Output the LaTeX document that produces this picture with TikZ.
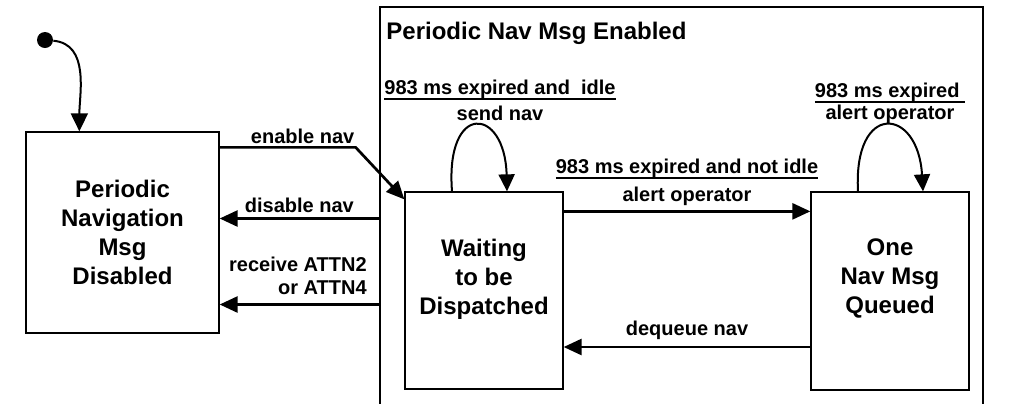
\documentclass[tikz,border=0pt]{standalone}
\usepackage{fontspec}
\setmainfont{Liberation Sans}
\usetikzlibrary{arrows.meta}

% underline drawn as a thick rule under the text
\newcommand{\ultext}[1]{\setbox0\hbox{#1}\rlap{\rule[-2.6pt]{\wd0}{1.2pt}}\box0}

\begin{document}
\begin{tikzpicture}[x=0.5pt,y=-0.5pt,
  state/.style={draw,line width=0.65pt,minimum width=79pt,minimum height=99pt,
    align=center,font=\fontsize{12}{14.5}\selectfont\bfseries},
  edgelbl/.style={font=\fontsize{10}{11.5}\selectfont\bfseries,inner sep=1pt},
  transition/.style={line width=1.35pt,-{Triangle[length=9pt,width=8pt]}},
  selfloop/.style={line width=1pt,-{Triangle[length=8.5pt,width=8pt]}}]
  \clip (0,0) rectangle (1016,403);

  % Enclosing super state (runs off the bottom)
  \node[draw,line width=1pt,minimum width=301.5pt,minimum height=211.5pt,
    inner sep=0] (en) at (681.5,218.5) {};
  \node[anchor=base west,inner sep=0,font=\fontsize{12}{14}\selectfont\bfseries]
    (title) at ([xshift=3.5pt,yshift=-16.5pt]en.north west) {Periodic Nav Msg Enabled};

  % States
  \node[state,minimum width=96.5pt,minimum height=100.5pt] (dis) at (122.5,232.5)
    {Periodic\\Navigation\\Msg\\Disabled};
  \node[state,minimum height=98.5pt,text depth=14pt] (wait) at (484,290.5)
    {Waiting\\to be\\Dispatched};
  \node[state,text depth=15pt] (que) at (890,291)
    {One\\Nav Msg\\Queued};

  % Initial state
  \node[circle,fill,inner sep=0,minimum size=8pt] (init) at (45,40) {};
  \draw[line width=1pt,-{Triangle[length=9pt,width=8.5pt]}]
    (init) to[out=-5,in=90] ([xshift=27pt]dis.north west);

  % Transitions between states
  \draw[transition] ([yshift=-8pt]dis.north east)
    -- node[edgelbl,above,xshift=7.5pt] {enable nav} ++(136,0)
    -- ([yshift=-4pt]wait.north west);
  \draw[transition] (en.west)
    -- node[edgelbl,above,yshift=1pt] {disable nav} (en.west -| dis.east);
  \coordinate (rcv) at ([yshift=-43pt]en.west);
  \draw[transition] (rcv)
    -- node[edgelbl,pos=0,anchor=south east,align=right,xshift=-4.5pt,yshift=3pt]
       {receive ATTN2\\or ATTN4} (rcv -| dis.east);
  \draw[transition] ([yshift=-10pt]wait.north east)
    -- node[edgelbl,above,align=center,yshift=1pt]
       {\ultext{983 ms expired and not idle}\\[2.5pt]alert operator}
       ([yshift=-10pt]que.north west);
  \coordinate (deq) at ([yshift=-28pt]que.west);
  \draw[transition] (deq)
    -- node[edgelbl,above,yshift=2pt] {dequeue nav} (deq -| wait.east);

  % Self loops
  \draw[selfloop] ([xshift=-16pt]wait.north) .. controls +(-7,-90) and +(-2,-85)
    .. ([xshift=11.5pt]wait.north);
  \node[edgelbl,align=center,anchor=south] (sendlbl) at ([xshift=8pt,yshift=34pt]wait.north)
    {\ultext{983 ms expired and\ \ idle}\\[1.5pt]send nav};
  \draw[selfloop] ([xshift=-16pt]que.north) .. controls +(-5,-90) and +(-5,-85)
    .. ([xshift=16.5pt]que.north);
  \node[edgelbl,align=center,anchor=south] (alertlbl) at ([yshift=32.5pt]que.north)
    {\ultext{983 ms expired\ }\\[-0.5pt]alert operator};
\end{tikzpicture}
\end{document}
